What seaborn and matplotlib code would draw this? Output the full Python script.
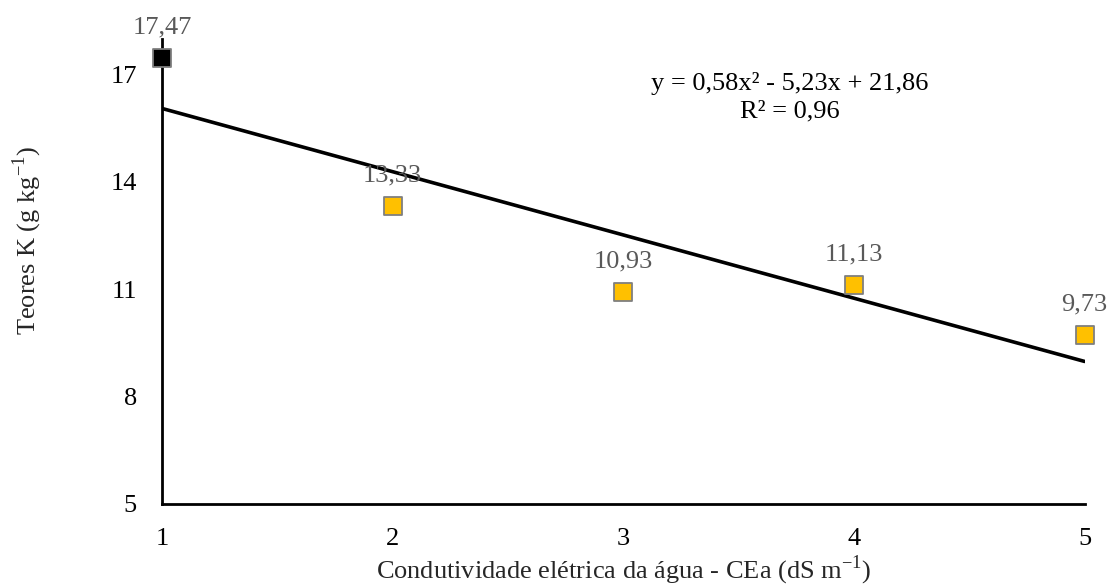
import numpy as np
import pandas as pd
import seaborn as sns
import matplotlib.pyplot as plt

# dados
cea = [1, 2, 3, 4, 5]
teor_k = [17.47, 13.33, 10.93, 11.13, 9.73]
rotulos = ['17,47', '13,33', '10,93', '11,13', '9,73']
yticks = [5, 8, 11, 14, 17]
equacao = 'y = 0,58x² - 5,23x + 21,86\nR² = 0,96'

df = pd.DataFrame({'cea': cea, 'k': teor_k})

sns.set_theme(style='white')
plt.rcParams['font.family'] = ['Liberation Serif', 'DejaVu Serif']
plt.rcParams['mathtext.fontset'] = 'custom'
plt.rcParams['mathtext.rm'] = 'Liberation Serif'

fig = plt.figure(figsize=(11.17, 5.88), dpi=100)
ax = fig.add_axes([0.145, 0.143, 0.826, 0.791])

# linha de tendencia (ajuste linear)
sns.regplot(data=df, x='cea', y='k', scatter=False, ci=None, truncate=True,
            color='black', line_kws={'linewidth': 2.6}, ax=ax)

# pontos
sns.scatterplot(data=df.iloc[1:], x='cea', y='k', marker='s', s=150, color='#FFC000',
                edgecolor='#7F7F7F', linewidth=1.3, ax=ax, zorder=3, clip_on=False)
sns.scatterplot(data=df.iloc[:1], x='cea', y='k', marker='s', s=150, color='black',
                edgecolor='#7F7F7F', linewidth=1.3, ax=ax, zorder=3, clip_on=False)

for xv, yv, lab in zip(cea, teor_k, rotulos):
    ax.annotate(lab, (xv, yv), xytext=(0, 14), textcoords='offset points',
                ha='center', va='bottom', fontsize=19, color='#595959',
                annotation_clip=False)

ax.text(3.72, 16.37, equacao, ha='center', va='center', fontsize=19,
        linespacing=1.3, color='black')

ax.set_xlim(1, 5)
ax.set_ylim(5, 18)
ax.set_xticks(cea)
ax.set_yticks(yticks)
ax.tick_params(axis='x', labelsize=19, length=0, pad=17, colors='black')
ax.tick_params(axis='y', labelsize=19, length=0, pad=18, colors='black')
ax.set_xlabel('Condutividade elétrica da água - CEa (dS m$^{\\mathregular{-1}}$)',
              fontsize=19, labelpad=3)
ax.set_ylabel('Teores K (g kg$^{\\mathregular{-1}}$)', fontsize=19, labelpad=48, y=0.566)

sns.despine(ax=ax)
for s in ['left', 'bottom']:
    ax.spines[s].set_color('black')
    ax.spines[s].set_linewidth(2)

plt.savefig('out.png', dpi=100)
